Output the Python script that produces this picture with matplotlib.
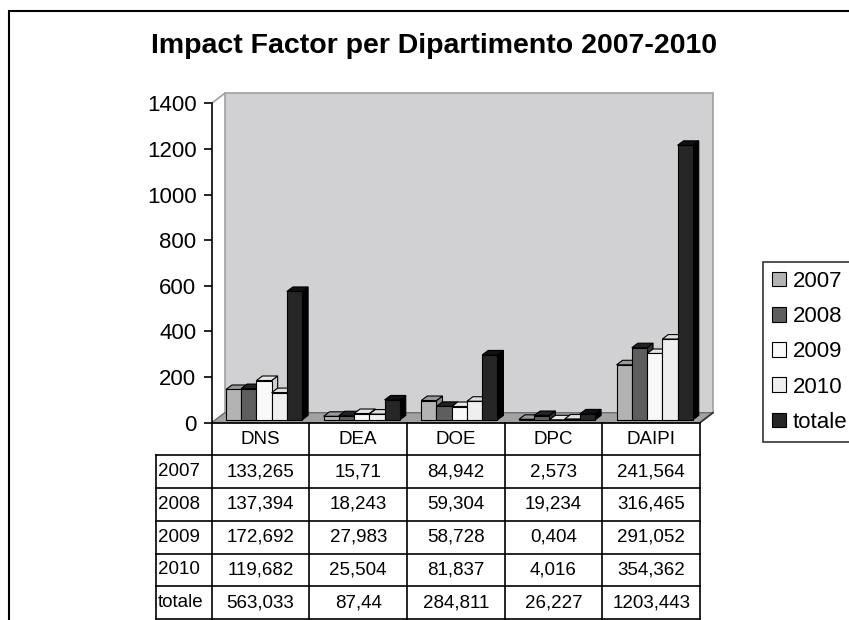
import matplotlib
matplotlib.use('Agg')
import matplotlib.pyplot as plt
from matplotlib.patches import Rectangle, Polygon, Patch
from matplotlib.lines import Line2D

plt.rcParams['font.family'] = ['Liberation Sans', 'DejaVu Sans']

# data
dipartimenti = ['DNS', 'DEA', 'DOE', 'DPC', 'DAIPI']
serie = ['2007', '2008', '2009', '2010', 'totale']
v2007 = [133.265, 15.71, 84.942, 2.573, 241.564]
v2008 = [137.394, 18.243, 59.304, 19.234, 316.465]
v2009 = [172.692, 27.983, 58.728, 0.404, 291.052]
v2010 = [119.682, 25.504, 81.837, 4.016, 354.362]
totale = [563.033, 87.44, 284.811, 26.227, 1203.443]
valori = [v2007, v2008, v2009, v2010, totale]
yticks = [0, 200, 400, 600, 800, 1000, 1200, 1400]

# colori: fronte, lato, sopra
col_front = ['#b3b3b3', '#5e5e5e', '#f9f9f9', '#efefef', '#262626']
col_side = ['#888888', '#333333', '#cfcfcf', '#c8c8c8', '#000000']
col_top = ['#9a9a9a', '#222222', '#e6e6e6', '#dedede', '#111111']

W, H = 849, 620
fig = plt.figure(figsize=(W / 100, H / 100), dpi=100)


def fr(x0, y0, x1, y1):
    return [x0 / W, 1 - y1 / H, (x1 - x0) / W, (y1 - y0) / H]


ax = fig.add_axes(fr(211.7, 103.3, 700, 422.7))
ax.set_xlim(0, 5)
ax.set_ylim(0, 1400)
ax.patch.set_visible(False)
for s in ['top', 'right', 'bottom']:
    ax.spines[s].set_visible(False)
ax.spines['left'].set_linewidth(1.2)
ax.set_xticks([])
ax.set_yticks(yticks)
ax.set_yticklabels([str(t) for t in yticks])
ax.tick_params(axis='y', length=6, width=1.2, labelsize=16, pad=5)

# pixel -> data
pxx = ax.bbox.width / 5.0
pxy = ax.bbox.height / 1400.0
FX, FY = 13 / pxx, 10 / pxy      # profondita pavimento
BX, BY = 6 / pxx, 4.5 / pxy      # profondita barre
OX, OY = 3.5 / pxx, 2.8 / pxy    # arretramento barre

# parete e pavimento
ax.add_patch(Rectangle((FX, FY), 5, 1400, fc='#d1d1d4', ec='#a0a0a0', lw=1.2,
                       zorder=0, clip_on=False))
ax.add_patch(Polygon([(0, 0), (5, 0), (5 + FX, FY), (FX, FY)], closed=True,
                     fc='#a2a2a2', ec='#6e6e6e', lw=1, zorder=1, clip_on=False))
ax.add_line(Line2D([0, FX], [1400, 1400 + FY], color='#a0a0a0', lw=1.2, clip_on=False))
ax.add_line(Line2D([5, 5 + FX], [0, FY], color='#333333', lw=1.2, clip_on=False))

w = 0.156
z = 2
for i in range(len(dipartimenti)):
    for j in range(len(serie)):
        h = valori[j][i]
        x0 = i + 0.11 + j * w + OX
        y0 = OY
        ax.add_patch(Polygon([(x0 + w, y0), (x0 + w + BX, y0 + BY),
                              (x0 + w + BX, y0 + h + BY), (x0 + w, y0 + h)],
                             closed=True, fc=col_side[j], ec='black', lw=0.8,
                             zorder=z, clip_on=False))
        ax.add_patch(Polygon([(x0, y0 + h), (x0 + w, y0 + h),
                              (x0 + w + BX, y0 + h + BY), (x0 + BX, y0 + h + BY)],
                             closed=True, fc=col_top[j], ec='black', lw=0.8,
                             zorder=z, clip_on=False))
        ax.add_patch(Rectangle((x0, y0), w, h, fc=col_front[j], ec='black', lw=0.8,
                               zorder=z + 0.5, clip_on=False))
        z += 1

# tabella dati
tax = fig.add_axes(fr(155.7, 422.7, 700, 619))
lab_w = 56 / pxx
tax.set_xlim(-lab_w, 5)
tax.set_ylim(6, 0)
tax.axis('off')
kw = dict(color='black', lw=1.2, clip_on=False)
tax.add_line(Line2D([0, 5], [0, 0], **kw))
for r in range(1, 7):
    tax.add_line(Line2D([-lab_w, 5], [r, r], **kw))
tax.add_line(Line2D([-lab_w, -lab_w], [1, 6], **kw))
for c in range(6):
    tax.add_line(Line2D([c, c], [0, 6], **kw))
for i, d in enumerate(dipartimenti):
    tax.text(i + 0.5, 0.5, d, ha='center', va='center', fontsize=13.5)
for r, s in enumerate(serie):
    tax.text(-lab_w + 0.02, r + 1.5, s, ha='left', va='center', fontsize=13.5)
    for i in range(len(dipartimenti)):
        txt = str(valori[r][i]).replace('.', ',')
        tax.text(i + 0.5, r + 1.5, txt, ha='center', va='center', fontsize=13.5)

# legenda
handles = [Patch(fc=col_front[j], ec='black', lw=0.8) for j in range(len(serie))]
leg = fig.legend(handles, serie, loc='upper left', bbox_to_anchor=(763 / W, 1 - 262 / H),
                 fontsize=16, frameon=True, fancybox=False, edgecolor='black',
                 handlelength=0.63, handleheight=0.63, handletextpad=0.3,
                 borderpad=0.4, labelspacing=0.64, borderaxespad=0)
leg.get_frame().set_linewidth(1.2)

fig.text(434 / W, 1 - 46 / H, 'Impact Factor per Dipartimento 2007-2010',
         ha='center', va='center', fontsize=20.5, fontweight='bold')

fig.add_artist(Rectangle((9 / W, -0.1), 2, 1.1 - 11 / H, transform=fig.transFigure,
                         fill=False, ec='black', lw=1.5))

plt.savefig('out.png', dpi=100)
